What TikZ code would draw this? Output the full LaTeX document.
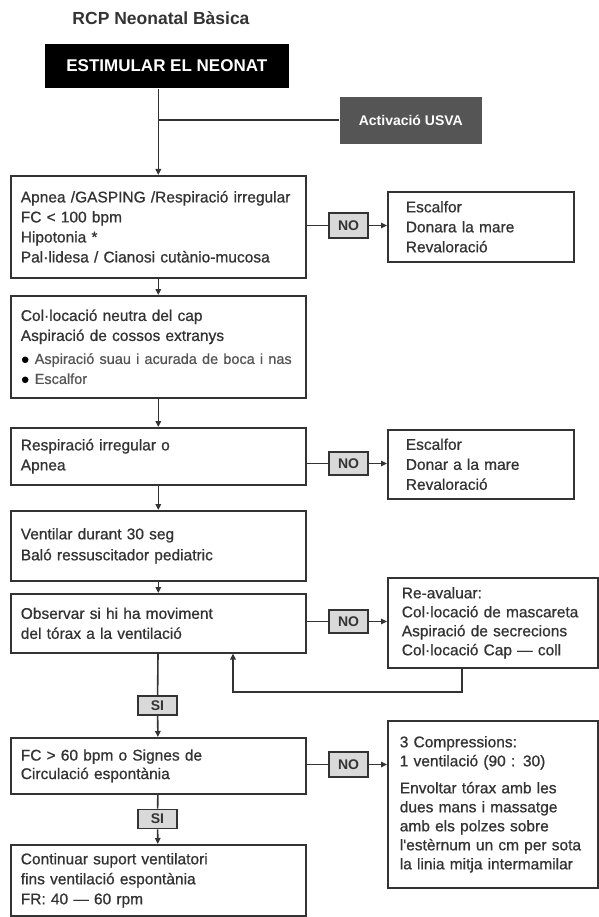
\documentclass[tikz,border=0pt]{standalone}
\usepackage{fontspec}
\setmainfont{Liberation Sans}
\newfontfamily\boxfont{Liberation Sans}[FakeBold=0.8]
\usetikzlibrary{arrows.meta,positioning}

\definecolor{linec}{HTML}{333333}
\definecolor{usvafill}{HTML}{555555}
\definecolor{tagfill}{HTML}{D9D9D9}
\definecolor{softtxt}{HTML}{555555}

\newcommand{\bulitem}[1]{{\fontsize{14.5}{20}\selectfont\textcolor{black}{●}\ \textcolor{softtxt}{#1}}}

\begin{document}
\hyphenpenalty=10000
\begin{tikzpicture}[x=1pt,y=-1pt,linec,line width=1.6pt,
  >={Triangle[length=6pt,width=5.5pt]},
  box/.style={draw,anchor=north west,align=left,
    inner xsep=10pt,inner ysep=0pt,font=\boxfont\fontsize{15.5}{20}\selectfont},
  sidebox/.style={box,inner xsep=18pt},
  tag/.style={draw,fill=tagfill,inner sep=0pt,
    minimum width=39pt,font=\bfseries\fontsize{14}{16}\selectfont},
  headbox/.style={fill=black,text=white,anchor=north west,inner sep=0pt,
    font=\bfseries\fontsize{17}{20}\selectfont}]
\useasboundingbox (0,0) rectangle (598,917);

% title and start
\node[font=\bfseries\fontsize{17.5}{20}\selectfont] (title) at (161,18) {RCP Neonatal Bàsica};
\node[headbox,minimum width=244,minimum height=44] (stim) at (44,43) {ESTIMULAR EL NEONAT};
\node[headbox,fill=usvafill,minimum width=142,minimum height=47,
  font=\bfseries\fontsize{14}{16}\selectfont] (usva) at (339,96) {Activació USVA};

% main column
\node[box,minimum width=295,minimum height=102,text width=275] (b1) at (10,175)
  {Apnea /GASPING /Respiració irregular\\FC < 100 bpm\\Hipotonia *\\Pal·lidesa / Cianosi cutànio-mucosa};
\node[box,minimum width=295,minimum height=102,text width=275] (b2) at (10,295)
  {Col·locació neutra del cap\\Aspiració de cossos extranys\\[3pt]
   \bulitem{Aspiració suau i acurada de boca i nas}\\\bulitem{Escalfor}};
\node[box,minimum width=295,minimum height=57,text width=275] (b3) at (10,427)
  {Respiració irregular o\\Apnea};
\node[box,minimum width=295,minimum height=70,text width=275,
  font=\boxfont\fontsize{15.5}{21}\selectfont] (b4) at (10,510)
  {Ventilar durant 30 seg\\Baló ressuscitador pediatric};
\node[box,minimum width=295,minimum height=59,text width=275] (b5) at (10,593)
  {Observar si hi ha moviment\\del tórax a la ventilació};
\node[box,minimum width=295,minimum height=56,text width=275,
  font=\boxfont\fontsize{15.5}{18.5}\selectfont] (b6) at (10,737)
  {FC > 60 bpm o Signes de\\Circulació espontània};
\node[box,minimum width=295,minimum height=71,text width=275] (b7) at (10,844)
  {Continuar suport ventilatori\\fins ventilació espontània\\FR: 40 — 60 rpm};

% side column
\node[sidebox,minimum width=186,minimum height=70,text width=150] (r1) at (387,191)
  {Escalfor\\Donara la mare\\Revaloració};
\node[sidebox,minimum width=186,minimum height=69,text width=150] (r2) at (387,429)
  {Escalfor\\Donar a la mare\\Revaloració};
\node[sidebox,inner xsep=14pt,minimum width=210,minimum height=90,text width=182,
  font=\boxfont\fontsize{15.5}{19}\selectfont] (r3) at (387,577)
  {Re-avaluar:\\Col·locació de mascareta\\Aspiració de secrecions\\Col·locació Cap — coll};
\node[sidebox,inner xsep=12pt,minimum width=210,minimum height=167,text width=186,
  font=\boxfont\fontsize{15.5}{19}\selectfont] (r4) at (387,720)
  {3 Compressions:\\1 ventilació (90 : 30)\\[8pt]Envoltar tórax amb les\\dues mans i massatge\\amb els polzes sobre\\l'estèrnum un cm per sota\\la linia mitja intermamilar};

% NO / SI tags
\node[tag,minimum height=25] (no1) at (348.5,225.5) {NO};
\node[tag,minimum height=23] (no2) at (348.5,463.5) {NO};
\node[tag,minimum height=23] (no3) at (348.5,621.5) {NO};
\node[tag,minimum height=25] (no4) at (348.5,764.5) {NO};
\node[tag,minimum height=19] (si1) at (157.5,705.5) {SI};
\node[tag,minimum height=19] (si2) at (157.5,819) {SI};

\coordinate (fb) at (462,692);
\coordinate (fbend) at (233,692);

% connectors
\draw[->] (stim.south -| b1.north) -- (b1.north);
\draw (b1.north |- usva.west) -- (usva.west);
\draw[->] (b1) -- (b2);
\draw[->] (b2) -- (b3);
\draw[->] (b3) -- (b4);
\draw[->] (b4) -- (b5);
\draw (b5) -- (si1);
\draw[->] (si1) -- (b6);
\draw (b6) -- (si2);
\draw[->] (si2) -- (b7);
\draw (b1.east |- no1) -- (no1);
\draw[->] (no1) -- (r1.west |- no1);
\draw (b3.east |- no2) -- (no2);
\draw[->] (no2) -- (r2.west |- no2);
\draw (b5.east |- no3) -- (no3);
\draw[->] (no3) -- (r3.west |- no3);
\draw (b6.east |- no4) -- (no4);
\draw[->] (no4) -- (r4.west |- no4);
\draw[->] (r3.south -| fb) |- (fbend) -- (b5.south -| fbend);
\end{tikzpicture}
\end{document}
